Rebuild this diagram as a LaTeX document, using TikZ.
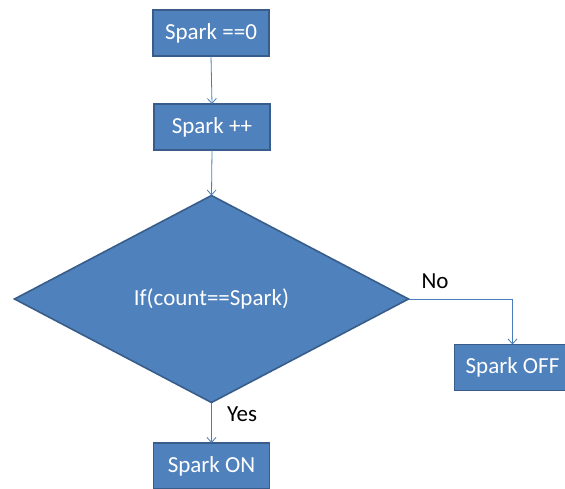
\documentclass[tikz,border=0pt]{standalone}
\usepackage{fontspec}
\setmainfont{Carlito}
\usetikzlibrary{shapes.geometric,arrows.meta}
\definecolor{boxfill}{HTML}{4F81BD}
\definecolor{boxline}{HTML}{385D8A}
\definecolor{arrline}{HTML}{4A7EBB}
\tikzset{
  procbox/.style={rectangle, draw=boxline, fill=boxfill, line width=1.6pt,
    minimum width=116pt, minimum height=46pt, inner sep=0pt, outer sep=0pt,
    text=white, font=\fontsize{23}{26}\selectfont},
  decbox/.style={diamond, draw=boxline, fill=boxfill, line width=1.6pt,
    minimum width=394pt, minimum height=207pt, inner sep=0pt, outer sep=0pt,
    text=white, font=\fontsize{23}{26}\selectfont},
  conn/.style={draw=arrline, line width=0.8pt, -{Straight Barb[length=5pt,width=9pt,line width=0.8pt]}},
  lbl/.style={font=\fontsize{23}{26}\selectfont, text=black, inner sep=0pt}
}
\begin{document}
\begin{tikzpicture}[x=1pt,y=-1pt]
\useasboundingbox (0,0) rectangle (565,488);
\fill[white] (0,0) rectangle (565,488);
\node[procbox] (s0) at (211,33) {Spark ==0};
\node[procbox] (sp) at (212,127) {Spark ++};
\node[decbox] (dec) at (211.5,299) {If(count==Spark)};
\node[procbox] (on) at (211.5,466) {Spark ON};
\node[procbox] (off) at (512.5,367.5) {Spark OFF};
\draw[conn] (s0.south) -- (sp.north);
\draw[conn] (sp.south) -- (dec.north);
\draw[conn] (dec.south) -- (on.north);
\draw[conn] (dec.east) -| (off.north);
\node[lbl] (no) at (435,281) {No};
\node[lbl] (yes) at (242,414) {Yes};
\end{tikzpicture}
\end{document}
